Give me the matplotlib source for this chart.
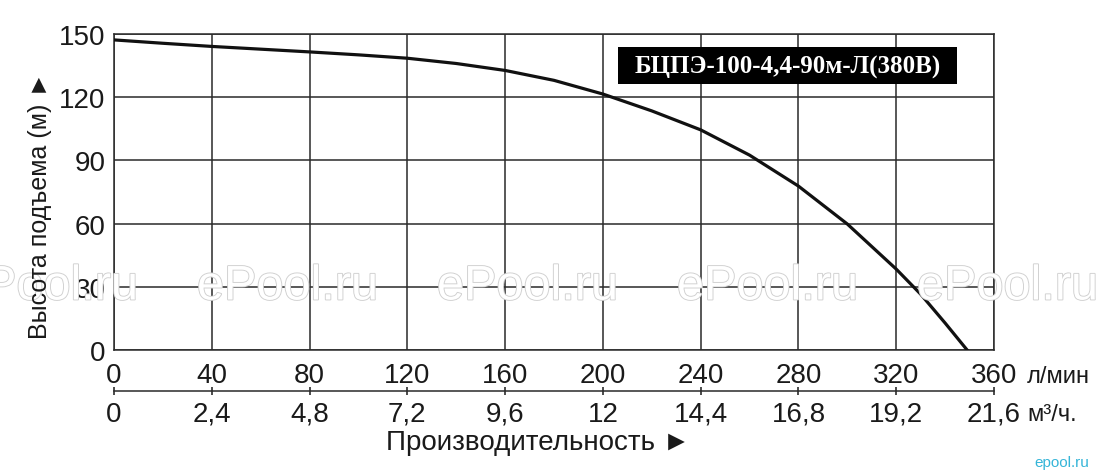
import matplotlib
matplotlib.use("Agg")
import matplotlib.pyplot as plt
import matplotlib.patheffects as pe
from matplotlib.patches import Rectangle

# ---- data ----
flow_lpm = [0, 20, 40, 60, 80, 100, 120, 140, 160, 180, 200, 220, 240, 260, 280, 300, 320, 330, 340, 349]
head_m = [147.2, 145.6, 144.1, 142.8, 141.5, 140.1, 138.5, 136.0, 132.7, 128.0, 121.5, 113.5,
          104.5, 92.5, 77.8, 59.8, 38.4, 26.5, 12.8, 0.0]

x_ticks_lpm = [0, 40, 80, 120, 160, 200, 240, 280, 320, 360]
x_ticks_m3h = [0, 2.4, 4.8, 7.2, 9.6, 12, 14.4, 16.8, 19.2, 21.6]
x_labels_m3h = ["0", "2,4", "4,8", "7,2", "9,6", "12", "14,4", "16,8", "19,2", "21,6"]
y_ticks = [0, 30, 60, 90, 120, 150]

title_text = "БЦПЭ-100-4,4-90м-Л(380В)"
ylabel_text = "Высота подъема (м) ►"
xlabel_text = "Производительность ►"
unit_lpm = "л/мин"
unit_m3h = "м³/ч."
watermark = "ePool.ru"

FAM = ["Liberation Sans", "DejaVu Sans"]
plt.rcParams["font.family"] = FAM

W, H = 1100, 477
fig = plt.figure(figsize=(W / 100, H / 100), dpi=100)
fig.patch.set_facecolor("white")

L, R, T, B = 114, 994, 35, 351
ax = fig.add_axes([L / W, 1 - B / H, (R - L) / W, (B - T) / H])
ax.set_xlim(0, 360)
ax.set_ylim(0, 150)

gc = "#2a2a2a"
for v in x_ticks_lpm:
    ax.axvline(v, color=gc, lw=1.1, zorder=1)
for v in y_ticks:
    ax.axhline(v, color=gc, lw=1.1, zorder=1)
for s in ax.spines.values():
    s.set_color(gc)
    s.set_linewidth(1.1)

# watermarks
for xc in [-43, 197, 437, 677, 917]:
    fig.text(xc / W, 1 - 288 / H, watermark, fontsize=35, color="white",
             ha="left", va="center", zorder=0.5, family=FAM,
             path_effects=[pe.Stroke(linewidth=1.3, foreground="#cfcfcf"), pe.Normal()])

ax.plot(flow_lpm, head_m, color="#111111", lw=2.3, zorder=5, solid_joinstyle="round")

ax.set_xticks(x_ticks_lpm)
ax.set_xticklabels([str(v) for v in x_ticks_lpm])
ax.set_yticks(y_ticks)
ax.tick_params(axis="both", length=0, labelsize=20, colors="#1a1a1a")
ax.tick_params(axis="x", pad=9)
ax.tick_params(axis="y", pad=6)

sec = ax.secondary_xaxis(-41 / (B - T), functions=(lambda q: q * 0.06, lambda m: m / 0.06))
sec.set_xticks(x_ticks_m3h)
sec.set_xticklabels(x_labels_m3h)
sec.tick_params(axis="x", direction="inout", length=6, width=1.1, labelsize=20,
                colors="#1a1a1a", pad=4)
sec.spines["bottom"].set_color(gc)
sec.spines["bottom"].set_linewidth(1.1)

fig.text(1027 / W, 1 - 377 / H, unit_lpm, fontsize=17, ha="left", va="center", color="#1a1a1a")
fig.text(1027 / W, 1 - 415 / H, unit_m3h, fontsize=17, ha="left", va="center", color="#1a1a1a")

fig.text(538 / W, 1 - 443 / H, xlabel_text, fontsize=20, ha="center", va="center", color="#1a1a1a")
fig.text(40 / W, 1 - 205 / H, ylabel_text, fontsize=18, ha="center", va="center",
         rotation=90, color="#1a1a1a")

# black label box
bx0, bx1, by0, by1 = 618, 957, 48, 85
fig.patches.append(Rectangle((bx0 / W, 1 - by1 / H), (bx1 - bx0) / W, (by1 - by0) / H,
                             transform=fig.transFigure, facecolor="black", edgecolor="none",
                             zorder=10))
fig.text((bx0 + bx1) / 2 / W, 1 - 67 / H, title_text, fontsize=18, fontweight="bold",
         family=["Liberation Serif", "DejaVu Serif"], color="white", ha="center",
         va="center", zorder=11)

fig.text(1062 / W, 1 - 463 / H, "epool.ru", fontsize=11, color="#35b5d8",
         ha="center", va="center", family=FAM)

fig.savefig("out.png", dpi=100)
